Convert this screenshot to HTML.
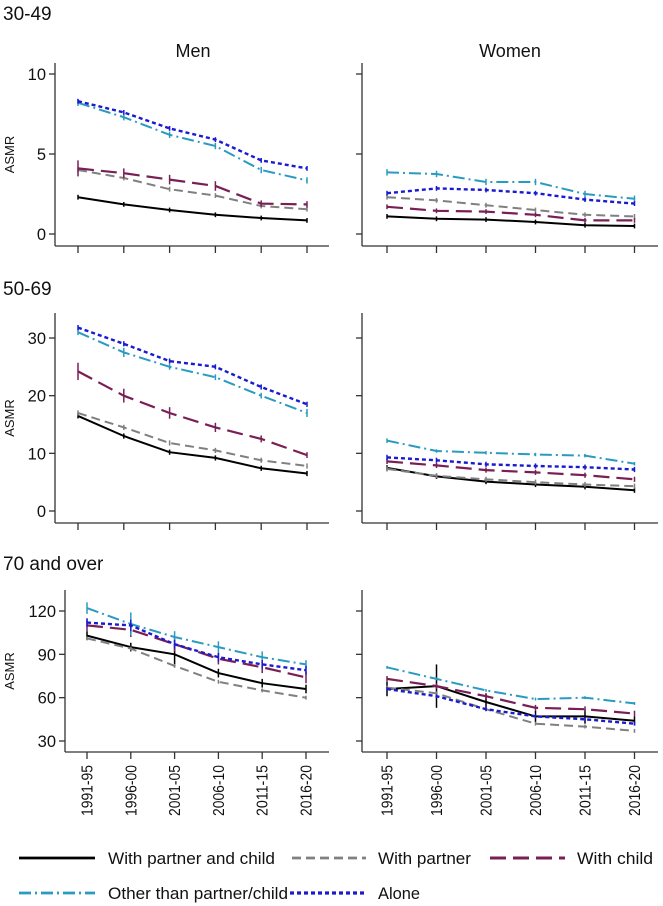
<!DOCTYPE html>
<html><head><meta charset="utf-8">
<style>
html,body{margin:0;padding:0;background:#fff;}
svg{display:block;font-family:"Liberation Sans",sans-serif;}
</style></head>
<body>
<svg id="chart" width="663" height="906" viewBox="0 0 663 906" xmlns="http://www.w3.org/2000/svg"></svg>
<script>
const periods = ["1991-95","1996-00","2001-05","2006-10","2011-15","2016-20"];
const seriesNames = ["With partner and child","With partner","With child","Other than partner/child","Alone"];
// 30-49
const m30_pc=[2.3,1.85,1.5,1.2,1.0,0.85], m30_p=[4.0,3.5,2.8,2.4,1.75,1.55], m30_c=[4.1,3.8,3.4,3.0,1.9,1.85], m30_o=[8.2,7.3,6.2,5.5,4.0,3.35], m30_a=[8.3,7.6,6.6,5.9,4.6,4.1];
const w30_pc=[1.1,0.95,0.9,0.75,0.55,0.5], w30_p=[2.3,2.1,1.8,1.5,1.2,1.1], w30_c=[1.7,1.45,1.4,1.2,0.85,0.85], w30_o=[3.85,3.75,3.25,3.25,2.5,2.2], w30_a=[2.55,2.85,2.75,2.55,2.15,1.9];
// 50-69
const m50_pc=[16.5,13,10.2,9.2,7.4,6.5], m50_p=[17,14.5,11.8,10.5,8.8,7.8], m50_c=[24.2,20,17,14.5,12.5,9.7], m50_o=[31,27.5,25,23.2,20,17], m50_a=[31.8,29,26,25,21.5,18.5];
const w50_pc=[7.5,6,5.1,4.6,4.2,3.6], w50_p=[7.3,6.1,5.5,5,4.6,4.3], w50_c=[8.6,7.9,7.1,6.7,6.2,5.5], w50_o=[12.2,10.4,10.1,9.8,9.6,8.2], w50_a=[9.3,8.8,8.1,7.8,7.6,7.2];
// 70+
const m70_pc=[103,95,90,77,70,66], m70_p=[101,94,82,71,65,60], m70_c=[110,107,97,87,81,74], m70_o=[122,111,102,95,88,83], m70_a=[112,110,97,88,83,79];
const w70_pc=[66,68,57,47,47,44], w70_p=[67,63,52,42,40,37], w70_c=[73,68,61,53,52,49], w70_o=[81,73,65,59,60,56], w70_a=[66,61,52,47,45,42];
// CI half-widths
const e30m_c=[0.5,0.3,0.3,0.3,0.2,0.2], e30m_o=[0.2,0.2,0.2,0.2,0.2,0.2], e30w_o=[0.2,0.2,0.2,0.2,0.2,0.2];
const e50m_c=[1.5,1.2,1.0,0.8,0.6,0.5], e50m_o=[0.5,0.8,0.5,0.5,0.5,0.7], e50w_o=[0.4,0.3,0.3,0.3,0.3,0.3];
const e70m_pc=[3,3,7,3,3,3], e70m_c=[4,5,5,4,4,4], e70m_o=[4,8,4,4,4,3], e70m_a=[3,4,3,3,3,3];
const e70w_pc=[5,15,6,4,5,3], e70w_o=[1,1,1,1,1,1], e70w_c=[2,2,2,2,2,2];
const ticks30=[0,5,10], ticks50=[0,10,20,30], ticks70=[30,60,90,120];

const svg=document.getElementById('chart');
const NS='http://www.w3.org/2000/svg';
function mk(tag,attrs,parent){const e=document.createElementNS(NS,tag);for(const k in attrs)e.setAttribute(k,attrs[k]);(parent||svg).appendChild(e);return e;}
const styles=[
 {stroke:'#000000',dash:'',w:2},
 {stroke:'#808080',dash:'9,5',w:2},
 {stroke:'#7a1f55',dash:'16,7',w:2.2},
 {stroke:'#2a9bc0',dash:'12,4,2,4',w:2},
 {stroke:'#1a1ad0',dash:'4,3',w:2.4}
];
function txt(x,y,s,attrs,name){const t=mk('text',Object.assign({x:x,y:y,'font-size':15,fill:'#111'},attrs||{}));t.textContent=s;


return t;}

function panel(cfg){
 const g=mk('g',{});
 
 
 const yS=v=>cfg.yA+(v-cfg.vA)*(cfg.yB-cfg.yA)/(cfg.vB-cfg.vA);
 const xS=i=>cfg.x0+i*cfg.dx;
 const ya=mk('line',{x1:cfg.ax,y1:cfg.top,x2:cfg.ax,y2:cfg.bot,stroke:'#333','stroke-width':1.3},g);
 
 
 const xa=mk('line',{x1:cfg.ax,y1:cfg.bot,x2:cfg.right,y2:cfg.bot,stroke:'#333','stroke-width':1.3},g);
 
 
 cfg.ticks.forEach(v=>{mk('line',{x1:cfg.ax-6,y1:yS(v),x2:cfg.ax,y2:yS(v),stroke:'#333','stroke-width':1.3},g);
  if(cfg.labels){const t=txt(cfg.ax-9,yS(v)+6,String(v),{'text-anchor':'end','font-size':16.5},'y-tick-label');g.appendChild(t);}});
 periods.forEach((p,i)=>{mk('line',{x1:xS(i),y1:cfg.bot,x2:xS(i),y2:cfg.bot+7,stroke:'#333','stroke-width':1.3},g);
  if(cfg.xlabels){const t=txt(0,0,p,{'text-anchor':'end','font-size':15.5,textLength:51,lengthAdjust:'spacingAndGlyphs',transform:`translate(${xS(i)+5.5},765) rotate(-90)`},'x-tick-label');g.appendChild(t);}});
 if(cfg.labels){const t=txt(0,0,'ASMR',{'text-anchor':'middle','font-size':13,transform:`translate(14,${(cfg.top+cfg.bot)/2}) rotate(-90)`},'y-axis-title');g.appendChild(t);}
 cfg.series.forEach((s,k)=>{
  const st=styles[k];
  const d=s.map((v,i)=>(i?'L':'M')+xS(i).toFixed(1)+','+yS(v).toFixed(1)).join(' ');
  const pth=mk('path',{d:d,fill:'none',stroke:st.stroke,'stroke-width':st.w,'stroke-dasharray':st.dash},g);
  
  
  const err=cfg.err[k];
  s.forEach((v,i)=>{const e=err?err[i]:0.0;
   const hw = e || (cfg.vB-cfg.vA)*0.015;
   const b=mk('line',{x1:xS(i),y1:yS(v-hw),x2:xS(i),y2:yS(v+hw),stroke:st.stroke,'stroke-width':1.5},g);
   
   });
 });
}
const L={ax:55,x0:78,dx:45.8,right:329}, R={ax:362,x0:387,dx:49.5,right:658};
const r1={top:63,bot:246,yA:234,vA:0,yB:74,vB:10,ticks:ticks30};
const r2={top:313,bot:523,yA:511,vA:0,yB:338,vB:30,ticks:ticks50};
const r3={top:590,bot:752,yA:741,vA:30,yB:611,vB:120,ticks:ticks70};
panel(Object.assign({name:'panel-30-49-men',labels:true,series:[m30_pc,m30_p,m30_c,m30_o,m30_a],err:[null,null,e30m_c,e30m_o,null]},L,r1));
panel(Object.assign({name:'panel-30-49-women',series:[w30_pc,w30_p,w30_c,w30_o,w30_a],err:[null,null,null,e30w_o,null]},R,r1));
panel(Object.assign({name:'panel-50-69-men',labels:true,series:[m50_pc,m50_p,m50_c,m50_o,m50_a],err:[null,null,e50m_c,e50m_o,null]},L,r2));
panel(Object.assign({name:'panel-50-69-women',series:[w50_pc,w50_p,w50_c,w50_o,w50_a],err:[null,null,null,e50w_o,null]},R,r2));
panel(Object.assign({name:'panel-70-men',labels:true,xlabels:true,series:[m70_pc,m70_p,m70_c,m70_o,m70_a],err:[e70m_pc,null,e70m_c,e70m_o,e70m_a]},{ax:65,x0:87,dx:43.8,right:329},r3));
panel(Object.assign({name:'panel-70-women',xlabels:true,series:[w70_pc,w70_p,w70_c,w70_o,w70_a],err:[e70w_pc,null,e70w_c,e70w_o,null]},R,r3));

txt(3,20,'30-49',{'font-size':19},'age-group-title-30-49');
txt(3,295,'50-69',{'font-size':19},'age-group-title-50-69');
txt(3,570,'70 and over',{'font-size':19},'age-group-title-70-plus');
txt(193,57,'Men',{'font-size':18,'text-anchor':'middle'},'column-title-men');
txt(510,57,'Women',{'font-size':18,'text-anchor':'middle'},'column-title-women');

const leg=[[19,95,108,858,'With partner and child',167],[292,366,378,858,'With partner',93],[490,565,577,858,'With child',76],[19,95,108,893,'Other than partner/child',180],[290,366,378,893,'Alone',42]];
leg.forEach((l,k)=>{const st=styles[k];
 const ln=mk('line',{x1:l[0],y1:l[3],x2:l[1],y2:l[3],stroke:st.stroke,'stroke-width':st.w+0.8,'stroke-dasharray':st.dash});
 
 
 txt(l[2],l[3]+6,l[4],{'font-size':17,textLength:l[5],lengthAdjust:'spacingAndGlyphs'},'legend-entry');
});
</script>
</body></html>
